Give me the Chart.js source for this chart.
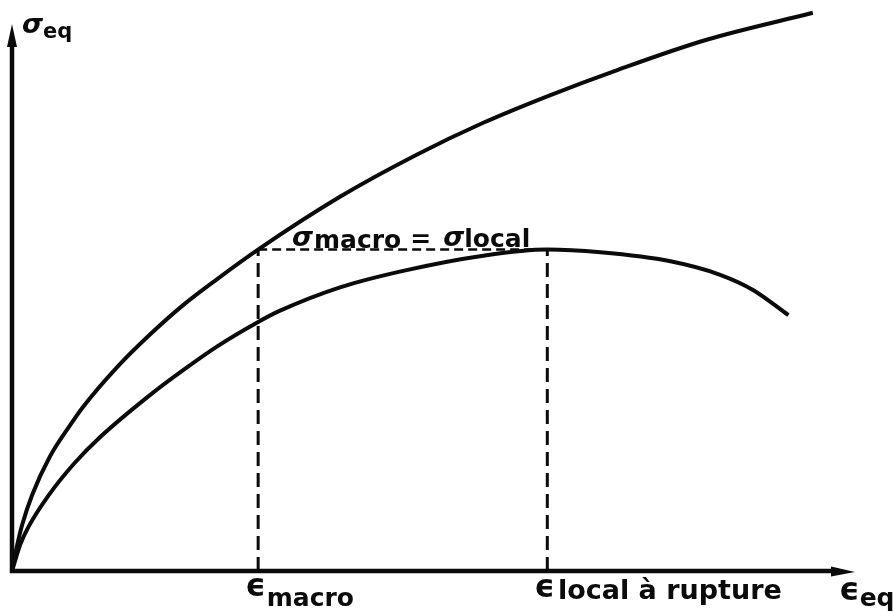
<!DOCTYPE html>
<html>
<head>
<meta charset="utf-8">
<script src="https://cdn.jsdelivr.net/npm/chart.js@4"></script>
<style>
  body { margin: 0; background: #fff; }
  #wrap { width: 893px; height: 612px; }
</style>
</head>
<body>
<div id="wrap"><canvas id="chart" width="893" height="612"></canvas></div>
<script>
// equivalent strain (x) / equivalent stress (y), arbitrary units 0-100
let macroStrain = [0, 0.6, 1.2, 2.4, 4.5, 6.9, 8.4, 12.5, 16.4, 20.3, 24.3, 29.1, 38.9, 48.0, 55.9, 63.8, 71.8, 82.4, 95.0];
let macroStress = [0, 4.5, 8.2, 13.6, 20.4, 26.0, 29.2, 36.4, 42.2, 47.4, 52.0, 57.2, 66.7, 74.2, 79.9, 84.8, 89.3, 94.7, 99.5];

let localStrain = [0, 1.0, 2.0, 4.3, 7.4, 10.4, 16.4, 20.3, 24.3, 29.1, 31.8, 39.0, 46.4, 55.9, 63.5, 69.8, 78.1, 84.0, 87.9, 92.1];
let localStress = [0, 4.8, 8.0, 13.4, 19.2, 23.8, 31.4, 35.8, 40.0, 44.3, 46.4, 50.6, 53.5, 56.2, 57.3, 56.8, 55.2, 52.8, 50.1, 45.6];

// the two marked strains and the common stress level
let epsMacro = 29.2;
let epsRupture = 63.5;
let sigmaMacro = 57.3;

function pts(xs, ys) {
  return xs.map((x, i) => ({ x: x, y: ys[i] }));
}

const INK = "#0b0b0b";
const FONT = "DejaVu Sans";

function curve(data) {
  return {
    data: data,
    borderColor: INK,
    borderWidth: 4,
    pointRadius: 0,
    cubicInterpolationMode: "monotone",
    fill: false,
    clip: false
  };
}

function guide(data, dash, w) {
  return {
    data: data,
    borderColor: INK,
    borderWidth: w,
    borderDash: dash,
    pointRadius: 0,
    tension: 0,
    fill: false,
    clip: false
  };
}

// draws a row of text pieces, each with its own font and baseline shift
function textRun(ctx, x, y, parts) {
  parts.forEach(p => {
    ctx.font = p.f;
    ctx.fillText(p.t, x, y + (p.dy || 0));
    x += ctx.measureText(p.t).width + (p.gap || 0);
  });
}

const axesAndLabels = {
  id: "axesAndLabels",
  beforeDatasetsDraw(chart) {
    const ctx = chart.ctx;
    const a = chart.chartArea;
    const x0 = a.left, y0 = a.bottom;
    ctx.save();
    ctx.strokeStyle = INK;
    ctx.fillStyle = INK;
    ctx.lineWidth = 4.5;
    ctx.lineCap = "butt";
    // y axis
    ctx.beginPath();
    ctx.moveTo(x0, y0 + 2);
    ctx.lineTo(x0, a.top + 30);
    ctx.stroke();
    ctx.beginPath();
    ctx.moveTo(x0, a.top + 14);
    ctx.lineTo(x0 - 5, a.top + 37);
    ctx.lineTo(x0 + 5, a.top + 37);
    ctx.closePath();
    ctx.fill();
    // x axis
    ctx.beginPath();
    ctx.moveTo(x0 - 2, y0);
    ctx.lineTo(a.right - 16, y0);
    ctx.stroke();
    ctx.beginPath();
    ctx.moveTo(a.right, y0 + 1);
    ctx.lineTo(a.right - 24, y0 - 4.5);
    ctx.lineTo(a.right - 24, y0 + 5.5);
    ctx.closePath();
    ctx.fill();
    ctx.restore();
  },
  afterDatasetsDraw(chart) {
    const ctx = chart.ctx;
    const sx = chart.scales.x;
    ctx.save();
    ctx.fillStyle = INK;
    ctx.textBaseline = "alphabetic";
    const big = "bold 27px " + FONT;
    const sub = "bold 25px " + FONT;
    const eps = "bold 32px " + FONT;
    const sig = "italic bold 27px " + FONT;

    textRun(ctx, 22, 33, [{ t: "σ", f: sig }, { t: "eq", f: "bold 21px " + FONT, dy: 5 }]);

    textRun(ctx, 292, 246, [
      { t: "σ", f: sig, gap: 1 },
      { t: "macro", f: sub, dy: 2, gap: 9 },
      { t: "=", f: sub, dy: 1, gap: 12 },
      { t: "σ", f: sig },
      { t: "local", f: sub, dy: 1 }
    ]);

    let px = sx.getPixelForValue(epsMacro);
    textRun(ctx, px - 13, 596, [{ t: "ϵ", f: eps, gap: 1 }, { t: "macro", f: sub, dy: 10 }]);

    px = sx.getPixelForValue(epsRupture);
    textRun(ctx, px - 13, 597, [{ t: "ϵ", f: eps, gap: 3 }, { t: "local à rupture", f: big, dy: 2 }]);

    textRun(ctx, 839, 600, [{ t: "ϵ", f: eps }, { t: "eq", f: sub, dy: 6 }]);
    ctx.restore();
  }
};

new Chart(document.getElementById("chart"), {
  type: "line",
  data: {
    datasets: [
      curve(pts(macroStrain, macroStress)),
      curve(pts(localStrain, localStress)),
      guide([{ x: epsMacro, y: 0 }, { x: epsMacro, y: sigmaMacro }], [14, 7], 3),
      guide([{ x: epsMacro, y: sigmaMacro }, { x: epsRupture, y: sigmaMacro }], [9, 5], 2.5),
      guide([{ x: epsRupture, y: 0 }, { x: epsRupture, y: sigmaMacro }], [14, 7], 3)
    ]
  },
  options: {
    responsive: false,
    animation: false,
    layout: { padding: { left: 12, right: 38, top: 10, bottom: 41 } },
    plugins: { legend: { display: false }, tooltip: { enabled: false } },
    scales: {
      x: { type: "linear", min: 0, max: 100, display: false },
      y: { type: "linear", min: 0, max: 100, display: false }
    }
  },
  plugins: [axesAndLabels]
});
</script>
</body>
</html>
